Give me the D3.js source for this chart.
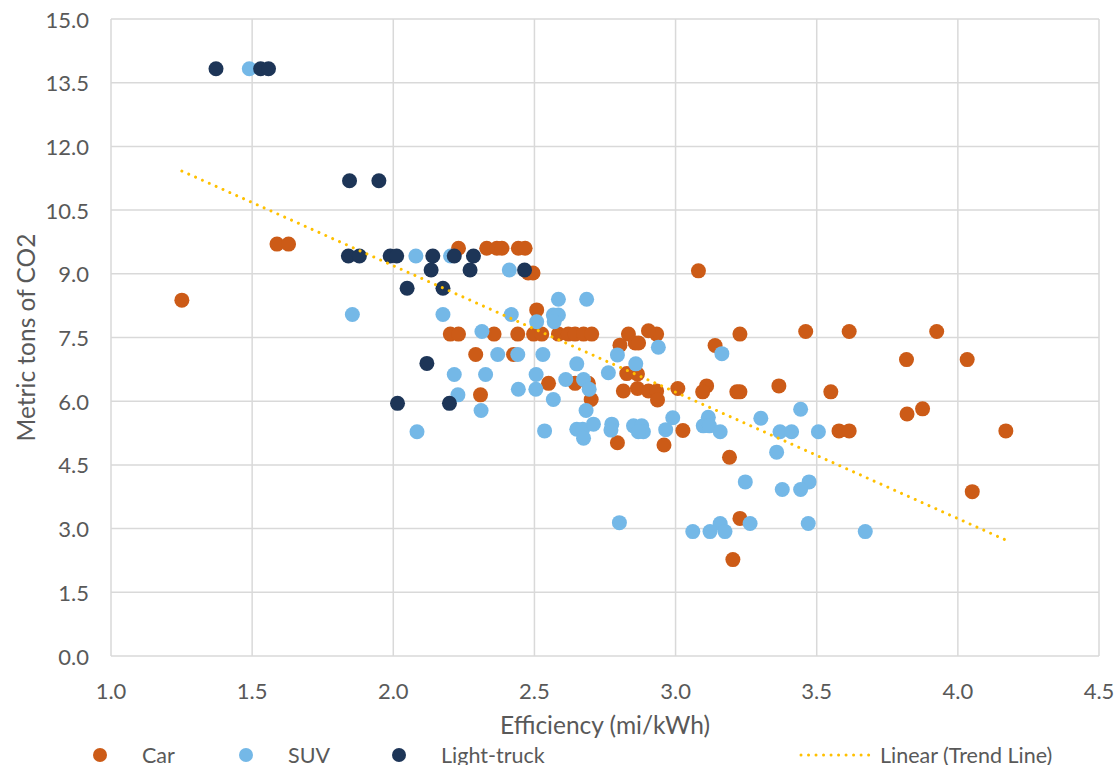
<!DOCTYPE html>
<html lang="en">
<head>
<meta charset="UTF-8">
<script src="https://d3js.org/d3.v7.min.js"></script>
<style>
  body { margin: 0; background: #fff; font-family: Lato, "Open Sans", sans-serif; }
  .grid line { stroke: #d9d9d9; stroke-width: 1.5px; }
  .tick-label { fill: #595959; font-size: 22px; }
  .axis-title { fill: #595959; font-size: 24.5px; }
  .legend text { fill: #595959; font-size: 21.5px; }
</style>
</head>
<body>
<script>
// Car
const carX = [1.251, 1.588, 1.629, 2.231, 2.331, 2.367, 2.385, 2.443, 2.467, 2.478, 2.495, 2.508,
  2.202, 2.231, 2.357, 2.441, 2.497, 2.526, 2.585, 2.620, 2.644, 2.674, 2.703, 2.833, 2.933, 3.228,
  2.904, 3.461, 3.615, 3.925, 2.803, 2.857, 2.869, 3.140, 2.292, 2.426, 3.081, 3.818, 4.033,
  2.827, 2.865, 2.550, 2.644, 2.691, 3.110, 3.366, 2.865, 3.008,
  2.815, 2.904, 2.933, 3.096, 3.217, 3.228, 3.550, 2.309, 2.701, 2.936,
  3.875, 3.820, 3.026, 3.579, 3.615, 4.170, 2.794, 2.959, 3.191, 4.051, 3.228, 3.203];
const carY = [8.38, 9.70, 9.70, 9.60, 9.60, 9.60, 9.60, 9.60, 9.60, 9.02, 9.02, 8.15,
  7.58, 7.58, 7.58, 7.58, 7.58, 7.58, 7.58, 7.58, 7.58, 7.58, 7.58, 7.58, 7.58, 7.58,
  7.66, 7.64, 7.64, 7.64, 7.32, 7.37, 7.37, 7.31, 7.10, 7.10, 9.07, 6.98, 6.98,
  6.65, 6.64, 6.42, 6.42, 6.42, 6.36, 6.36, 6.30, 6.30,
  6.24, 6.24, 6.24, 6.22, 6.22, 6.22, 6.22, 6.15, 6.04, 6.03,
  5.82, 5.70, 5.31, 5.30, 5.30, 5.30, 5.02, 4.97, 4.68, 3.87, 3.24, 2.27];

// SUV
const suvX = [1.490, 1.855, 2.080, 2.203, 2.411, 2.176, 2.418, 2.567, 2.585, 2.508, 2.570,
  2.585, 2.685, 2.314, 2.939, 3.164, 2.370, 2.441, 2.530, 2.794, 2.650, 2.859,
  2.216, 2.327, 2.506, 2.762, 2.611, 2.674, 2.443, 2.505, 2.694, 2.229, 2.567,
  2.311, 2.683, 3.443, 2.990, 3.116, 3.302, 3.098, 3.120,
  2.084, 2.536, 2.650, 2.671, 2.674, 2.709, 2.774, 2.771, 2.851, 2.880, 2.886, 2.868, 2.965,
  3.158, 3.370, 3.411, 3.506, 3.358, 3.247, 3.473, 3.378, 3.443,
  2.801, 3.158, 3.264, 3.470, 3.061, 3.122, 3.175, 3.672];
const suvY = [13.83, 8.04, 9.42, 9.42, 9.09, 8.04, 8.04, 8.03, 8.03, 7.87, 7.87,
  8.40, 8.40, 7.64, 7.27, 7.12, 7.10, 7.10, 7.10, 7.09, 6.88, 6.88,
  6.63, 6.63, 6.63, 6.67, 6.51, 6.51, 6.28, 6.28, 6.28, 6.15, 6.04,
  5.78, 5.78, 5.81, 5.61, 5.62, 5.60, 5.42, 5.42,
  5.28, 5.30, 5.34, 5.34, 5.13, 5.46, 5.46, 5.32, 5.42, 5.42, 5.28, 5.28, 5.33,
  5.28, 5.28, 5.28, 5.28, 4.80, 4.10, 4.10, 3.92, 3.92,
  3.14, 3.12, 3.12, 3.12, 2.93, 2.93, 2.93, 2.93];

// Light-truck
const truckX = [1.372, 1.530, 1.558, 1.845, 1.949, 1.841, 1.880, 1.989, 2.012, 2.140, 2.216, 2.284,
  2.134, 2.272, 2.465, 2.049, 2.176, 2.119, 2.015, 2.199];
const truckY = [13.83, 13.83, 13.83, 11.19, 11.19, 9.42, 9.42, 9.42, 9.42, 9.42, 9.42, 9.42,
  9.09, 9.09, 9.09, 8.66, 8.66, 6.89, 5.95, 5.95];

// trend line ends
const trendX = [1.251, 4.17];
const trendY = [11.42, 2.73];

const xTicks = [1.0, 1.5, 2.0, 2.5, 3.0, 3.5, 4.0, 4.5];
const yTicks = [0, 1.5, 3.0, 4.5, 6.0, 7.5, 9.0, 10.5, 12.0, 13.5, 15.0];

const W = 1115, H = 765;
const margin = {left: 111, right: 16, top: 19, bottom: 109};

const x = d3.scaleLinear().domain([1, 4.5]).range([margin.left, W - margin.right]);
const y = d3.scaleLinear().domain([0, 15]).range([H - margin.bottom, margin.top]);

const svg = d3.select('body').append('svg')
  .attr('width', W).attr('height', H)
  .style('display', 'block');

svg.append('rect').attr('width', W).attr('height', H).attr('fill', '#fff');

// gridlines
const grid = svg.append('g').attr('class', 'grid');
grid.selectAll('line.h').data(yTicks).join('line').attr('class', 'h')
  .attr('x1', x(1)).attr('x2', x(4.5))
  .attr('y1', d => y(d)).attr('y2', d => y(d));
grid.selectAll('line.v').data(xTicks).join('line').attr('class', 'v')
  .attr('y1', y(0)).attr('y2', y(15))
  .attr('x1', d => x(d)).attr('x2', d => x(d));

// tick labels
svg.append('g').selectAll('text').data(yTicks).join('text')
  .attr('class', 'tick-label')
  .attr('x', margin.left - 22).attr('y', d => y(d))
  .attr('text-anchor', 'end').attr('dominant-baseline', 'central')
  .text(d => d3.format('.1f')(d));
svg.append('g').selectAll('text').data(xTicks).join('text')
  .attr('class', 'tick-label')
  .attr('x', d => x(d)).attr('y', y(0) + 43)
  .attr('text-anchor', 'middle')
  .text(d => d3.format('.1f')(d));

// axis titles
svg.append('text').attr('class', 'axis-title')
  .attr('x', (x(1) + x(4.5)) / 2).attr('y', 734)
  .attr('text-anchor', 'middle')
  .text('Efficiency (mi/kWh)');
svg.append('text').attr('class', 'axis-title')
  .attr('transform', `translate(25,${(y(0) + y(15)) / 2}) rotate(-90)`)
  .attr('text-anchor', 'middle').attr('dominant-baseline', 'central')
  .text('Metric tons of CO2');

const series = [
  {name: 'Car', xs: carX, ys: carY, color: '#cc5b17'},
  {name: 'SUV', xs: suvX, ys: suvY, color: '#74b8e7'},
  {name: 'Light-truck', xs: truckX, ys: truckY, color: '#1d3557'}
];

series.forEach(s => {
  svg.append('g').selectAll('circle').data(s.xs.map((v, i) => [v, s.ys[i]])).join('circle')
    .attr('cx', d => x(d[0])).attr('cy', d => y(d[1]))
    .attr('r', 7.5).attr('fill', s.color);
});

// trend line
svg.append('path')
  .datum(trendX.map((v, i) => [v, trendY[i]]))
  .attr('d', d3.line().x(d => x(d[0])).y(d => y(d[1])))
  .attr('stroke', '#ffc000').attr('stroke-width', 3)
  .attr('stroke-linecap', 'round').attr('stroke-dasharray', '0.01 7.5')
  .attr('fill', 'none');

// legend
const ly = 755;
const legend = svg.append('g').attr('class', 'legend');
const lx = [100, 246, 399];
series.forEach((s, i) => {
  legend.append('circle').attr('cx', lx[i]).attr('cy', ly).attr('r', 7).attr('fill', s.color);
  legend.append('text').attr('x', lx[i] + 42).attr('y', 763).text(s.name);
});
legend.append('line').attr('x1', 801).attr('x2', 871).attr('y1', ly).attr('y2', ly)
  .attr('stroke', '#ffc000').attr('stroke-width', 3)
  .attr('stroke-linecap', 'round').attr('stroke-dasharray', '0.01 7.5');
legend.append('text').attr('x', 880).attr('y', 763).text('Linear (Trend Line)');
</script>
</body>
</html>
